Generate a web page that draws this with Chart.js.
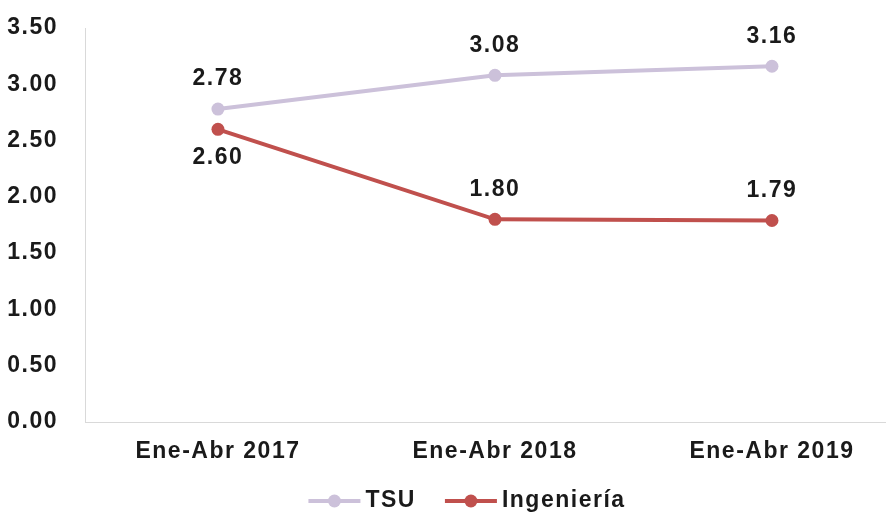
<!DOCTYPE html>
<html><head><meta charset="utf-8">
<script src="https://cdn.jsdelivr.net/npm/chart.js@4"></script>
<style>html,body{margin:0;padding:0;overflow:hidden;background:#fff;width:886px;height:515px}
#wrap{position:absolute;left:0;top:0;width:930px;height:515px}</style>
</head><body>
<div id="wrap"><canvas id="c" width="930" height="515"></canvas></div>
<script>
const categories = ['Ene-Abr 2017', 'Ene-Abr 2018', 'Ene-Abr 2019'];
const tsuValues = [2.78, 3.08, 3.16];
const ingValues = [2.60, 1.80, 1.79];
const yTicks = [0, 0.5, 1, 1.5, 2, 2.5, 3, 3.5];
const tsuLabelPos = ['above', 'above', 'above'];
const ingLabelPos = ['below', 'above', 'above'];

const FONT = "'Liberation Sans', Arial, sans-serif";
const FSIZE = 23;
const SPACING = '1.5px';
const TEXT = '#1a1a1a';
const AXIS = '#d9d9d9';
const TSU_COLOR = '#ccc1da';
const ING_COLOR = '#c0504d';

const toPoints = vals => vals.map((v, i) => ({ x: i, y: v }));

const spacingPlugin = {
  id: 'spacing',
  beforeUpdate(chart) { chart.ctx.letterSpacing = SPACING; },
  beforeDraw(chart) { chart.ctx.letterSpacing = SPACING; }
};

const labelPlugin = {
  id: 'valueLabels',
  afterDatasetsDraw(chart) {
    const ctx = chart.ctx;
    ctx.save();
    ctx.letterSpacing = SPACING;
    ctx.font = 'bold ' + FSIZE + 'px ' + FONT;
    ctx.fillStyle = TEXT;
    ctx.textAlign = 'center';
    ctx.textBaseline = 'middle';
    chart.data.datasets.forEach((ds, i) => {
      const meta = chart.getDatasetMeta(i);
      meta.data.forEach((pt, j) => {
        const dy = ds.labelPos[j] === 'below' ? 28 : -30;
        ctx.fillText(ds.data[j].y.toFixed(2), pt.x, pt.y + dy);
      });
    });
    ctx.restore();
  }
};

const legendPlugin = {
  id: 'lineLegend',
  afterDraw(chart) {
    const ctx = chart.ctx;
    ctx.save();
    ctx.letterSpacing = SPACING;
    ctx.font = 'bold ' + FSIZE + 'px ' + FONT;
    ctx.textBaseline = 'middle';
    ctx.textAlign = 'left';
    const iconW = 52, gapIcon = 5, gapItem = 29;
    const items = chart.data.datasets.map(ds => ({ ds, tw: ctx.measureText(ds.label).width }));
    const total = items.reduce((s, it) => s + iconW + gapIcon + it.tw, 0) + gapItem * (items.length - 1);
    let x = chart.width / 2 - total / 2 + 2;
    const y = 501;
    items.forEach(it => {
      const c = it.ds.borderColor;
      ctx.strokeStyle = c; ctx.lineWidth = 4;
      ctx.beginPath(); ctx.moveTo(x, y); ctx.lineTo(x + iconW, y); ctx.stroke();
      ctx.fillStyle = c; ctx.beginPath(); ctx.arc(x + iconW / 2, y, 6.5, 0, Math.PI * 2); ctx.fill();
      x += iconW + gapIcon;
      ctx.fillStyle = TEXT;
      ctx.fillText(it.ds.label, x, y);
      x += it.tw + gapItem;
    });
    ctx.restore();
  }
};

new Chart(document.getElementById('c'), {
  type: 'line',
  data: {
    datasets: [
      { label: 'TSU', data: toPoints(tsuValues), labelPos: tsuLabelPos, borderColor: TSU_COLOR, backgroundColor: TSU_COLOR,
        borderWidth: 4, pointRadius: 6.5, pointBackgroundColor: TSU_COLOR, pointBorderWidth: 0, tension: 0 },
      { label: 'Ingeniería', data: toPoints(ingValues), labelPos: ingLabelPos, borderColor: ING_COLOR, backgroundColor: ING_COLOR,
        borderWidth: 4, pointRadius: 6.5, pointBackgroundColor: ING_COLOR, pointBorderWidth: 0, tension: 0 }
    ]
  },
  options: {
    responsive: false,
    animation: false,
    devicePixelRatio: 1,
    layout: { padding: { top: 28, left: 0, right: 14, bottom: 48 } },
    plugins: {
      tooltip: { enabled: false },
      legend: { display: false }
    },
    scales: {
      x: {
        type: 'linear',
        min: -0.48, max: 2.52,
        afterBuildTicks(s) { s.ticks = categories.map((c, i) => ({ value: i })); },
        grid: { display: false, drawTicks: false },
        border: { display: true, color: AXIS, width: 1 },
        ticks: { color: TEXT, font: { family: FONT, size: FSIZE, weight: 'bold' }, padding: 16, maxRotation: 0,
          autoSkip: false, callback: v => categories[v] },
        afterFit(s) { s.height = 45; s.paddingLeft = 0; s.paddingRight = 0; }
      },
      y: {
        min: 0, max: 3.5,
        afterBuildTicks(s) { s.ticks = yTicks.map(v => ({ value: v })); },
        grid: { display: false, drawTicks: false },
        border: { display: true, color: AXIS, width: 1 },
        ticks: { color: TEXT, font: { family: FONT, size: FSIZE, weight: 'bold' }, padding: 27,
          callback: v => Number(v).toFixed(2) },
        afterFit(s) { s.width = 85; s.paddingTop = 0; s.paddingBottom = 0; }
      }
    }
  },
  plugins: [spacingPlugin, labelPlugin, legendPlugin]
});
</script>
</body></html>
